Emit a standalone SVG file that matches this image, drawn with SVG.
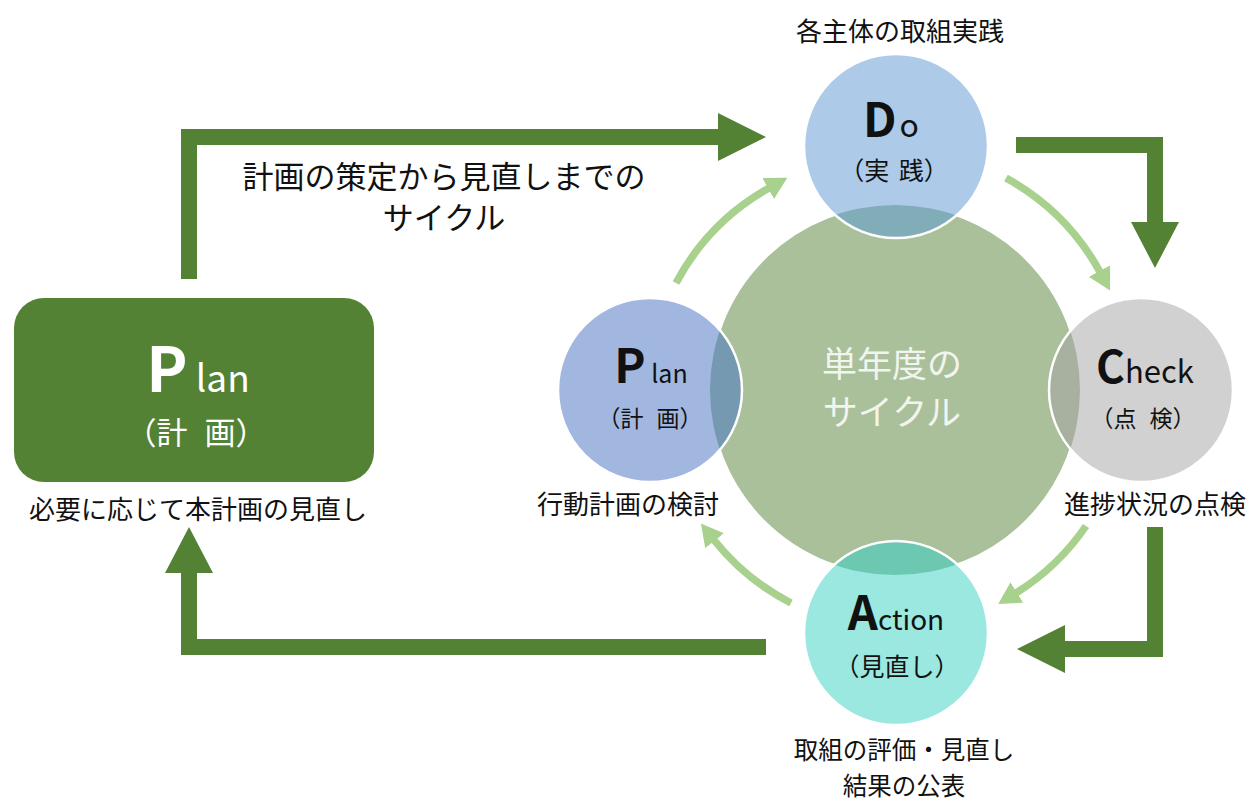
<svg xmlns="http://www.w3.org/2000/svg" width="1249" height="800" viewBox="0 0 1249 800">
<style>
text{font-family:"Noto Sans CJK JP","Noto Sans",sans-serif;fill:#111;}
.lbl{font-size:26px;text-anchor:middle;}
.big{font-weight:700;}
.sub{font-size:23px;text-anchor:middle;}
.bar{fill:#548235;}
.arc{fill:none;stroke:#A9D18E;stroke-width:7.5;marker-end:url(#ah);}
.small{stroke:#fff;stroke-width:2.5;}
.w{fill:#fff;}
</style>
<defs>
<marker id="ah" markerUnits="userSpaceOnUse" markerWidth="22" markerHeight="24" viewBox="0 0 22 24" refX="1" refY="12" orient="auto">
<path d="M0,0 L22,12 L0,24 z" fill="#A9D18E"/>
</marker>
<clipPath id="cc"><circle cx="895" cy="390" r="185"/></clipPath>
</defs>

<g id="connectors">
<polygon class="bar" points="181,279 181,129 718,129 718,113 766,137 718,161 718,145 197,145 197,279"/>
<polygon class="bar" points="1016,137 1163,137 1163,222 1179,222 1155,268 1131,222 1147,222 1147,153 1016,153"/>
<polygon class="bar" points="1147,527 1163,527 1163,657 1065,657 1065,673 1017,649 1065,625 1065,641 1147,641"/>
<polygon class="bar" points="766,639 766,655 181,655 181,573 165,573 189,527 213,573 197,573 197,639"/>
<path class="arc" d="M676,283 A236,236 0 0 1 769,188"/>
<path class="arc" d="M1006,178 A236,236 0 0 1 1100,272"/>
<path class="arc" d="M1086,526 A236,236 0 0 1 1016,593"/>
<path class="arc" d="M791,603 A236,236 0 0 1 714,540"/>
<text style="font-size:31px;text-anchor:middle" x="444" y="188">計画の策定から見直しまでの</text>
<text style="font-size:31px;text-anchor:middle" x="444" y="229">サイクル</text>
</g>

<g id="node-cycle">
<circle cx="895" cy="390" r="185" fill="#A9C09A" stroke="#fff" stroke-width="1.5"/>
<text style="font-size:35px;text-anchor:middle;fill:#F2F5EF" x="892" y="377">単年度の</text>
<text style="font-size:35px;text-anchor:middle;fill:#F2F5EF" x="892" y="425">サイクル</text>
</g>

<g id="node-do">
<circle cx="896" cy="146" r="92" fill="#ADCBE8"/>
<circle cx="896" cy="146" r="92" fill="#80ADB8" clip-path="url(#cc)"/>
<circle cx="896" cy="146" r="92" fill="none" class="small"/>
<text x="891" y="137" style="text-anchor:middle"><tspan class="big" style="font-size:47px">D</tspan><tspan dx="3" style="font-size:32px">o</tspan></text>
<text class="sub" x="894" y="180" style="font-size:25px">（実<tspan dx="4"> 践）</tspan></text>
<text class="lbl" x="900" y="41">各主体の取組実践</text>
</g>

<g id="node-plan">
<circle cx="650" cy="390" r="92" fill="#A1B7E0"/>
<circle cx="650" cy="390" r="92" fill="#7599B0" clip-path="url(#cc)"/>
<circle cx="650" cy="390" r="92" fill="none" class="small"/>
<text x="651" y="383" style="text-anchor:middle"><tspan class="big" style="font-size:47px">P</tspan><tspan style="font-size:25px"> lan</tspan></text>
<text class="sub" x="650" y="427">（計<tspan dx="8"> 画）</tspan></text>
<text class="lbl" x="628" y="514">行動計画の検討</text>
</g>

<g id="node-check">
<circle cx="1141" cy="390" r="92" fill="#D1D1D1"/>
<circle cx="1141" cy="390" r="92" fill="#A8B1A0" clip-path="url(#cc)"/>
<circle cx="1141" cy="390" r="92" fill="none" class="small"/>
<text x="1145" y="383" style="text-anchor:middle"><tspan class="big" style="font-size:44px">C</tspan><tspan style="font-size:31px">heck</tspan></text>
<text class="sub" x="1143" y="427">（点<tspan dx="8"> 検）</tspan></text>
<text class="lbl" x="1155" y="514">進捗状況の点検</text>
</g>

<g id="node-action">
<circle cx="896" cy="633" r="92" fill="#9BE8E0"/>
<circle cx="896" cy="633" r="92" fill="#6DC8B1" clip-path="url(#cc)"/>
<circle cx="896" cy="633" r="92" fill="none" class="small"/>
<text x="896" y="630" style="text-anchor:middle"><tspan class="big" style="font-size:47px">A</tspan><tspan style="font-size:28px">ction</tspan></text>
<text class="sub" x="897" y="676" style="font-size:25px">（見直し）</text>
<text class="lbl" x="904" y="759" style="font-size:24.5px">取組の評価・見直し</text>
<text class="lbl" x="904" y="795" style="font-size:24.5px">結果の公表</text>
</g>

<g id="node-plan-main">
<rect x="14" y="298" width="360" height="184" rx="30" fill="#548235"/>
<text x="198" y="392" style="text-anchor:middle"><tspan class="big w" style="font-size:62px">P</tspan><tspan class="w" style="font-size:37px"> lan</tspan></text>
<text class="sub w" x="196" y="444" style="font-size:31px">（計<tspan dx="10"> 画）</tspan></text>
<text class="lbl" x="198" y="519">必要に応じて本計画の見直し</text>
</g>
</svg>
